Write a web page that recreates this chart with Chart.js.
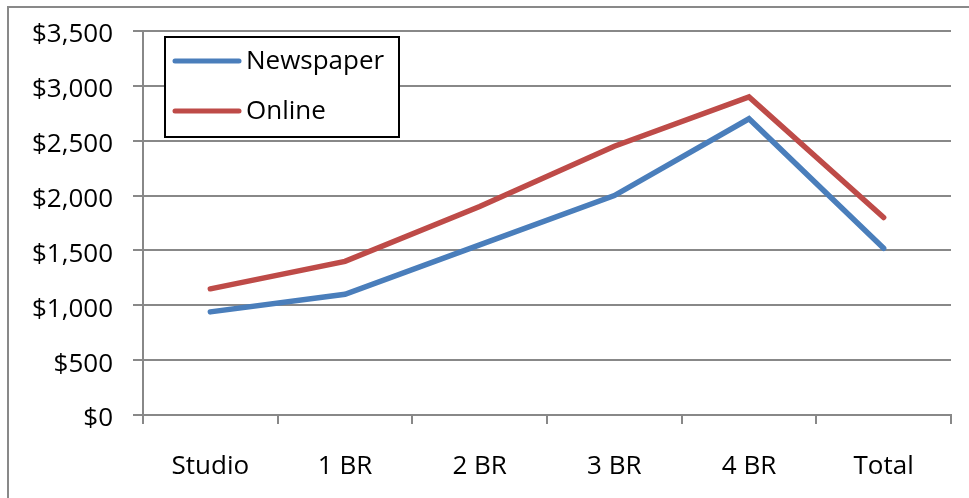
<!DOCTYPE html>
<html>
<head>
<meta charset="utf-8">
<script src="https://cdn.jsdelivr.net/npm/chart.js@4/dist/chart.umd.min.js"></script>
<style>
  html, body { margin: 0; padding: 0; background: #fff; overflow: hidden; }
  #frame {
    position: absolute; left: 7px; top: 6px; width: 2000px; height: 2000px;
    border-left: 2px solid #898989; border-top: 2px solid #898989;
  }
  #c { position: absolute; left: 0; top: 0; }
</style>
</head>
<body>
<div id="frame"></div>
<canvas id="c" width="969" height="498"></canvas>
<script>
// Average monthly rent by unit size, newspaper vs online listings
const categories = ['Studio', '1 BR', '2 BR', '3 BR', '4 BR', 'Total'];
const newspaper = [940, 1100, 1550, 2000, 2700, 1520];
const online = [1150, 1400, 1900, 2450, 2900, 1800];
const seriesNames = ['Newspaper', 'Online'];
const yTicks = [0, 500, 1000, 1500, 2000, 2500, 3000, 3500];

const gridColor = '#888888';
const FONT = "'Open Sans', 'Liberation Sans', sans-serif";

Chart.defaults.font.family = FONT;
Chart.defaults.font.size = 26;
Chart.defaults.color = '#000';

// Boxed legend drawn in the upper-left of the plot
const boxLegend = {
  id: 'boxLegend',
  afterDraw(chart) {
    const ctx = chart.ctx;
    const x0 = 165, y0 = 37, w = 234, h = 100;
    ctx.save();
    ctx.fillStyle = '#fff';
    ctx.fillRect(x0, y0, w, h);
    ctx.lineWidth = 2;
    ctx.strokeStyle = '#000';
    ctx.strokeRect(x0, y0, w, h);
    chart.data.datasets.forEach((ds, i) => {
      const y = y0 + 24 + i * 50;
      ctx.beginPath();
      ctx.lineCap = 'round';
      ctx.lineWidth = 5;
      ctx.strokeStyle = ds.borderColor;
      ctx.moveTo(x0 + 10, y);
      ctx.lineTo(x0 + 74, y);
      ctx.stroke();
      ctx.fillStyle = '#000';
      ctx.font = '26px ' + FONT;
      ctx.textBaseline = 'middle';
      ctx.textAlign = 'left';
      ctx.fillText(ds.label, x0 + 81, y + 1);
    });
    ctx.restore();
  }
};

new Chart(document.getElementById('c'), {
  type: 'line',
  data: {
    labels: categories,
    datasets: [
      { label: seriesNames[0], data: newspaper, borderColor: '#4A7EBB' },
      { label: seriesNames[1], data: online, borderColor: '#BE4B48' }
    ]
  },
  options: {
    responsive: false,
    animation: false,
    devicePixelRatio: 1,
    layout: { padding: { top: 31, right: 18, left: 0, bottom: 0 } },
    elements: {
      line: { borderWidth: 5.5, tension: 0, borderCapStyle: 'round', borderJoinStyle: 'miter', fill: false },
      point: { radius: 0, hoverRadius: 0 }
    },
    plugins: { legend: { display: false }, tooltip: { enabled: false } },
    scales: {
      x: {
        offset: true,
        grid: {
          offset: true, drawOnChartArea: false, drawTicks: true,
          tickLength: 9, color: gridColor, lineWidth: 2
        },
        border: { color: gridColor, width: 2 },
        ticks: { padding: 27, font: { size: 26 }, color: '#000' },
        afterFit(scale) { scale.height = 83; }
      },
      y: {
        min: 0, max: 3500,
        afterBuildTicks(scale) { scale.ticks = yTicks.map(v => ({ value: v })); },
        grid: { color: gridColor, lineWidth: 2, tickLength: 10 },
        border: { color: gridColor, width: 2 },
        ticks: {
          padding: 20,
          labelOffset: 4,
          font: { size: 26 },
          color: '#000',
          callback: v => '$' + Number(v).toLocaleString('en-US')
        },
        afterFit(scale) {
          scale.width = 143;
          scale.paddingTop = 0;
          scale.paddingBottom = 0;
        }
      }
    }
  },
  plugins: [boxLegend]
});
</script>
</body>
</html>
